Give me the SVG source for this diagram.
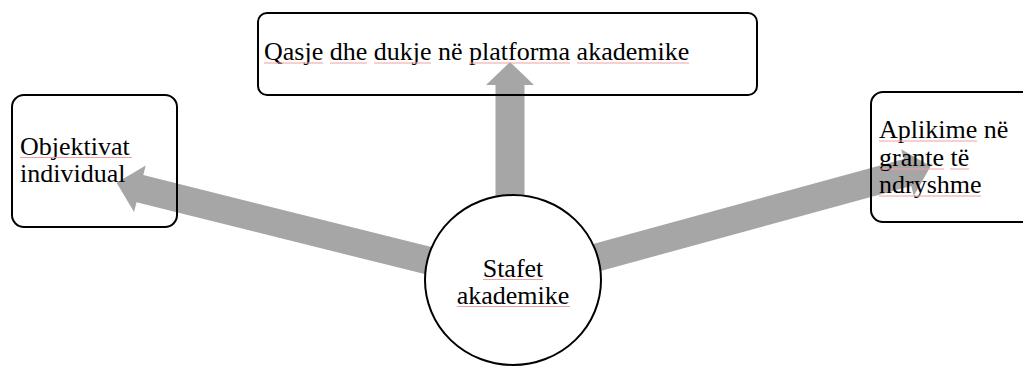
<svg xmlns="http://www.w3.org/2000/svg" width="1023" height="366" viewBox="0 0 1023 366">
<style>
.box{fill:none;stroke:#000;stroke-width:2}
.arrow{fill:#a6a6a6;stroke:none}
.t{font-family:"Liberation Serif","Times New Roman",serif;font-size:26px;fill:#000}
.sq{stroke:#f2a0a0;stroke-width:1;fill:none}
</style>
<rect width="1023" height="366" fill="#fff"/>
<g id="connectors">
<path class="arrow" transform="translate(430,261) rotate(194)" d="M0,-14 L299,-14 L299,-24 L323,0 L299,24 L299,14 L0,14 Z"/>
<path class="arrow" transform="translate(510,210) rotate(-90)" d="M0,-14.5 L125,-14.5 L125,-24 L148,0 L125,24 L125,14.5 L0,14.5 Z"/>
<path class="arrow" transform="translate(595,258) rotate(-15.3)" d="M0,-14 L324,-14 L324,-24 L348,0 L324,24 L324,14 L0,14 Z"/>
</g>
<g id="node-top">
<rect class="box" x="258" y="13" width="499" height="82" rx="9"/>
<text class="t" x="264" y="60">Qasje dhe dukje në platforma akademike</text>
<path class="sq" d="M264,63H323M330,63H367M374,63H431M469,63H570M577,63H689"/>
</g>
<g id="node-left">
<rect class="box" x="12" y="95" width="165" height="132" rx="12"/>
<text class="t" x="20" y="155">Objektivat</text>
<text class="t" x="20" y="182">individual</text>
<path class="sq" d="M20,157.5H132"/>
</g>
<g id="node-right">
<rect class="box" x="871" y="92" width="170" height="130" rx="12"/>
<text class="t" x="879" y="138">Aplikime në</text>
<text class="t" x="879" y="166">grante të</text>
<text class="t" x="879" y="193">ndryshme</text>
<path class="sq" d="M879,141H977M879,169H944M950,169H969M879,196H981"/>
</g>
<g id="node-center">
<ellipse cx="513" cy="280" rx="88" ry="85" fill="#fff" stroke="#000" stroke-width="2"/>
<text class="t" x="513" y="277" text-anchor="middle">Stafet</text>
<text class="t" x="513" y="304" text-anchor="middle">akademike</text>
<path class="sq" d="M483,279.5H543M457,306.5H570"/>
</g>
</svg>
